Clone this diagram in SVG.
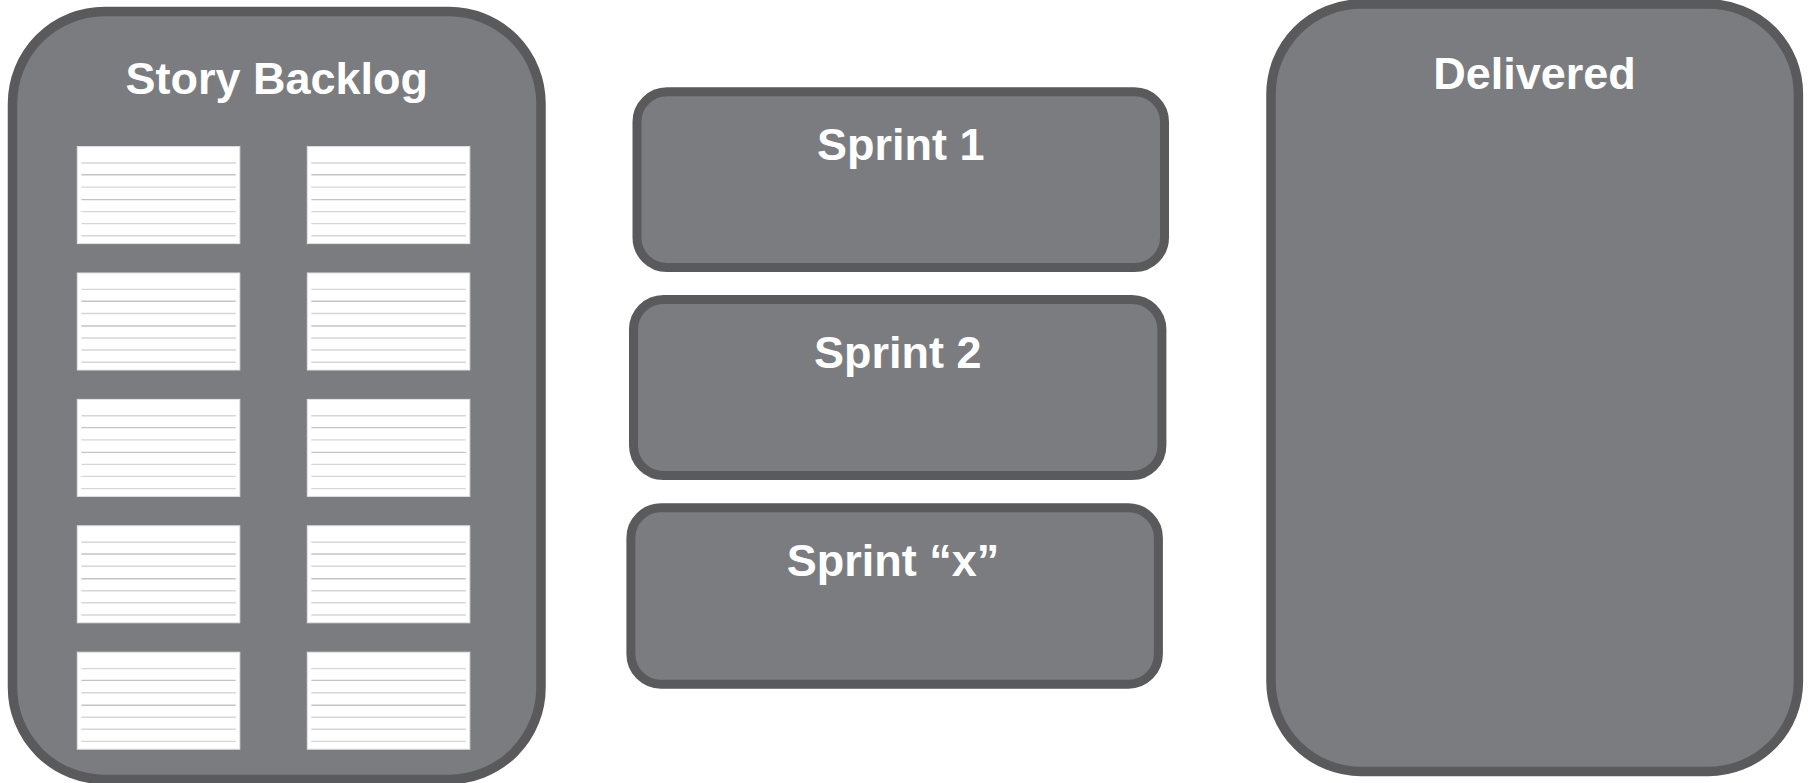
<svg xmlns="http://www.w3.org/2000/svg" width="1810" height="783" viewBox="0 0 1810 783">
<defs>
<style>
.box{fill:#7b7c80;stroke:#5a5a5c;stroke-width:9.5}
.sbox{fill:#7b7c80;stroke:#5a5a5c;stroke-width:9}
.lbl{font-family:"Liberation Sans",Arial,sans-serif;font-weight:bold;font-size:45px;fill:#ffffff;text-anchor:middle}
.card{fill:#ffffff;stroke:#e2e2e2;stroke-width:1}
.l1{stroke:#d6d6d6;stroke-width:1.4}
.l2{stroke:#c4c4c4;stroke-width:1.4}
</style>
<g id="cardTpl">
<rect class="card" x="0" y="0" width="162.5" height="97"/>
<line class="l1" x1="4" y1="16.4" x2="158.5" y2="16.4"/>
<line class="l2" x1="4" y1="28.2" x2="158.5" y2="28.2"/>
<line class="l1" x1="4" y1="40.5" x2="158.5" y2="40.5"/>
<line class="l2" x1="4" y1="53" x2="158.5" y2="53"/>
<line class="l1" x1="4" y1="65" x2="158.5" y2="65"/>
<line class="l1" x1="4" y1="77" x2="158.5" y2="77"/>
<line class="l1" x1="4" y1="89.2" x2="158.5" y2="89.2"/>
</g>
</defs>
<rect width="1810" height="783" fill="#ffffff"/>
<g id="story-backlog">
<rect class="box" x="12.5" y="11.5" width="528.5" height="768" rx="92" ry="92"/>
<text class="lbl" x="276.8" y="94">Story Backlog</text>
<g id="cards">
<use href="#cardTpl" x="77.3" y="146.6"/>
<use href="#cardTpl" x="307.3" y="146.6"/>
<use href="#cardTpl" x="77.3" y="273"/>
<use href="#cardTpl" x="307.3" y="273"/>
<use href="#cardTpl" x="77.3" y="399.4"/>
<use href="#cardTpl" x="307.3" y="399.4"/>
<use href="#cardTpl" x="77.3" y="525.8"/>
<use href="#cardTpl" x="307.3" y="525.8"/>
<use href="#cardTpl" x="77.3" y="652.2"/>
<use href="#cardTpl" x="307.3" y="652.2"/>
</g>
</g>
<g id="sprint-1">
<rect class="sbox" x="637" y="91.8" width="527.5" height="175.7" rx="30" ry="30"/>
<text class="lbl" x="900.7" y="160">Sprint 1</text>
</g>
<g id="sprint-2">
<rect class="sbox" x="633.5" y="299.5" width="528.4" height="176" rx="30" ry="30"/>
<text class="lbl" x="897.7" y="368">Sprint 2</text>
</g>
<g id="sprint-x">
<rect class="sbox" x="630.9" y="507.8" width="527.5" height="176.4" rx="30" ry="30"/>
<text class="lbl" x="893" y="576">Sprint “x”</text>
</g>
<g id="delivered">
<rect class="box" x="1271" y="4" width="527.4" height="767.5" rx="90" ry="90"/>
<text class="lbl" x="1534.5" y="89">Delivered</text>
</g>
<g id="connectors"/>
</svg>
